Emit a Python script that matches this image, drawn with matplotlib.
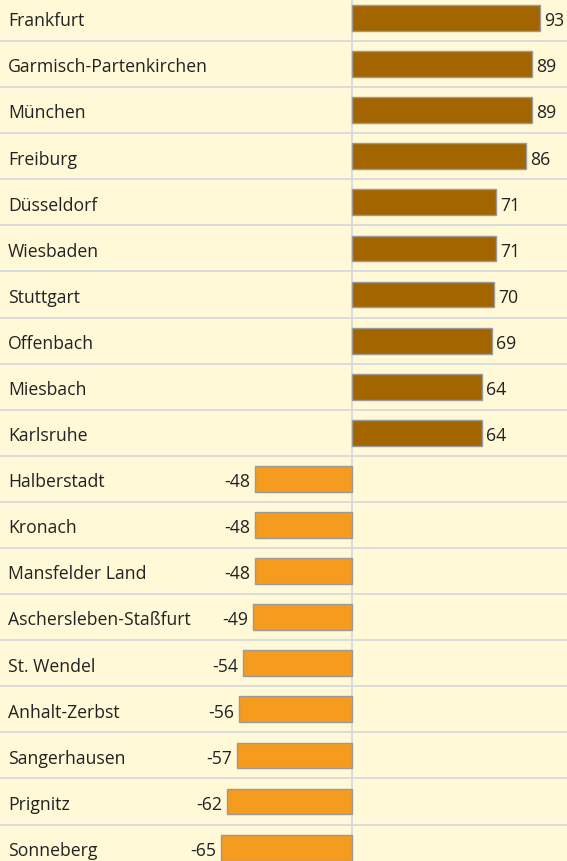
import matplotlib
matplotlib.use("Agg")
import matplotlib.pyplot as plt
import matplotlib.transforms as mtransforms

regions = [
    "Frankfurt", "Garmisch-Partenkirchen", "München", "Freiburg", "Düsseldorf",
    "Wiesbaden", "Stuttgart", "Offenbach", "Miesbach", "Karlsruhe",
    "Halberstadt", "Kronach", "Mansfelder Land", "Aschersleben-Staßfurt",
    "St. Wendel", "Anhalt-Zerbst", "Sangerhausen", "Prignitz", "Sonneberg",
]
values = [93, 89, 89, 86, 71, 71, 70, 69, 64, 64,
          -48, -48, -48, -49, -54, -56, -57, -62, -65]

BG = "#FFF9D8"
POS = "#A36500"
NEG = "#F59C1E"
GRID = "#D6D6DE"
TXT = "#222222"
FS = 12.7

plt.rcParams["font.family"] = ["Open Sans", "DejaVu Sans"]

fig = plt.figure(figsize=(5.67, 8.62), dpi=100)
fig.patch.set_facecolor(BG)
ax = fig.add_axes([0, 0, 1, 1])
ax.set_facecolor(BG)

ypos = list(range(len(regions)))
colors = [POS if v > 0 else NEG for v in values]
ax.barh(ypos, values, height=0.56, color=colors, edgecolor="#9A9A9A",
        linewidth=1.0, zorder=3)

# row separators and zero line
for i in range(len(regions)):
    ax.axhline(i + 0.5, color=GRID, linewidth=1.2, zorder=1)
ax.axvline(0, color=GRID, linewidth=1.2, zorder=1)

ax.set_xlim(-174.3, 106.3)
ax.set_ylim(18.29, -0.412)
ax.axis("off")

trans = mtransforms.blended_transform_factory(ax.transAxes, ax.transData)
for i, (name, v) in enumerate(zip(regions, values)):
    ty = i + 0.05
    ax.text(8 / 567, ty, name, transform=trans, ha="left", va="center",
            fontsize=FS, color=TXT)
    if v > 0:
        ax.annotate(str(v), (v, ty), xytext=(3.2, 0), textcoords="offset points",
                    ha="left", va="center", fontsize=FS, color=TXT)
    else:
        ax.annotate(str(v), (v, ty), xytext=(-3.6, 0), textcoords="offset points",
                    ha="right", va="center", fontsize=FS, color=TXT)

fig.savefig("out.png", dpi=100, facecolor=BG)
